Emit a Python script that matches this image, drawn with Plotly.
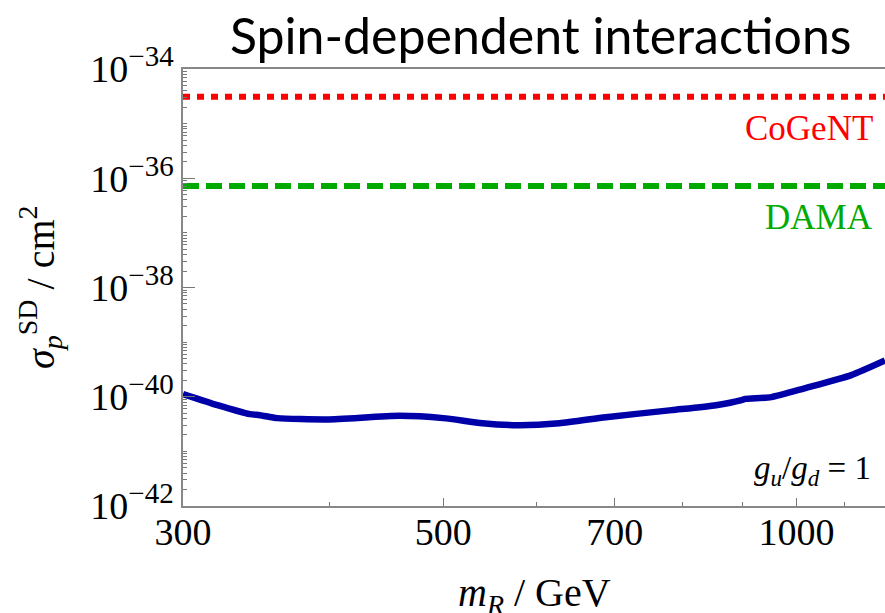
import plotly.graph_objects as go
import numpy as np

# ---- data ----
mass = [300, 321, 342, 349, 361, 398, 459, 500, 540, 580, 628, 688, 783, 854, 898, 905, 952, 1018, 1114, 1190]
sigma = [1.12e-40, 7.0e-41, 4.8e-41, 4.6e-41, 4.06e-41, 3.84e-41, 4.47e-41, 4.06e-41, 3.28e-41, 3.02e-41,
         3.28e-41, 4.23e-41, 5.69e-41, 7.0e-41, 8.67e-41, 9.16e-41, 9.84e-41, 1.44e-40, 2.49e-40, 4.6e-40]
cogent_level = 3.1e-35
dama_level = 7.2e-37
x_span = [300, 1190]

x_ticks = [300, 500, 700, 1000]
x_minor = [400, 600, 800, 900, 1100]
y_exps = [-42, -40, -38, -36, -34]
y_ticks = [10.0 ** e for e in y_exps]
y_ticktext = ["10<sup><span style='font-size:29px'>\u2212%d</span></sup>" % (-e) for e in y_exps]
y_minor = [k * 10.0 ** e for e in range(-42, -34) for k in range(1, 10) if not (k == 1 and e in y_exps)]

serif = "Liberation Serif"

fig = go.Figure()
fig.add_trace(go.Scatter(x=x_span, y=[cogent_level] * 2, mode="lines",
                         line=dict(color="#ff0000", width=6, dash="7px,7px"), hoverinfo="skip"))
fig.add_trace(go.Scatter(x=x_span, y=[dama_level] * 2, mode="lines",
                         line=dict(color="#00aa00", width=6, dash="16px,7px"), hoverinfo="skip"))
fig.add_trace(go.Scatter(x=mass, y=sigma, mode="lines",
                         line=dict(color="#0000a8", width=6.5, shape="spline", smoothing=0.6)))

fig.update_layout(
    width=885, height=613,
    margin=dict(l=183, r=0, t=69, b=107),
    paper_bgcolor="white", plot_bgcolor="white",
    showlegend=False,
    font=dict(family=serif, color="black"),
)
fig.update_xaxes(
    type="log", range=[np.log10(300), np.log10(1190)],
    tickmode="array", tickvals=x_ticks, ticktext=[str(v) for v in x_ticks],
    ticks="inside", ticklen=8, tickcolor="#777", tickwidth=1,
    showline=True, linecolor="#888", linewidth=1.5, mirror=True,
    showgrid=False, zeroline=False, ticklabelstandoff=-8,
    tickfont=dict(family=serif, size=38, color="black"),
    minor=dict(tickmode="array", tickvals=x_minor, ticks="inside", ticklen=4, tickcolor="#777", showgrid=False),
)
fig.update_yaxes(
    type="log", range=[-42, -34],
    tickmode="array", tickvals=y_ticks, ticktext=y_ticktext,
    ticks="inside", ticklen=12, tickcolor="#777", tickwidth=1,
    showline=True, linecolor="#888", linewidth=1.5, mirror=False,
    showgrid=False, zeroline=False,
    tickfont=dict(family=serif, size=38, color="black"),
    minor=dict(tickmode="array", tickvals=y_minor, ticks="inside", ticklen=4, tickcolor="#777", showgrid=False),
)

PL, PR, PT, PB = 183, 885, 69, 506
annos = [
    dict(text="Spin-dependent interactions", x=540, y=35, font=dict(family="Lato", size=50, color="black")),
    dict(text="CoGeNT", x=875, y=128, xanchor="right", font=dict(family=serif, size=35, color="#ff0000")),
    dict(text="DAMA", x=875, y=217, xanchor="right", font=dict(family=serif, size=35, color="#00aa00")),
    dict(text="<i>g</i><sub><i>u</i></sub>/<i>g</i><sub><i>d</i></sub> = 1", x=873, y=470, xanchor="right",
         font=dict(family=serif, size=33, color="black")),
    dict(text="<i>m</i><sub><i>R</i></sub> / GeV", x=534, y=595, font=dict(family=serif, size=40, color="black")),
    dict(text="<i>\u03c3</i><sub><i>p</i></sub><sup>SD</sup> / cm<sup>2</sup>", x=40, y=287, textangle=-90,
         font=dict(family=serif, size=40, color="black")),
]
for a in annos:
    fig.add_annotation(xref="paper", yref="paper",
                       x=(a["x"] - PL) / (PR - PL),
                       y=(PB - a["y"]) / (PB - PT),
                       text=a["text"], showarrow=False, xanchor=a.get("xanchor", "center"), yanchor="middle",
                       textangle=a.get("textangle", 0), font=a["font"])

fig.write_html("out.html")
